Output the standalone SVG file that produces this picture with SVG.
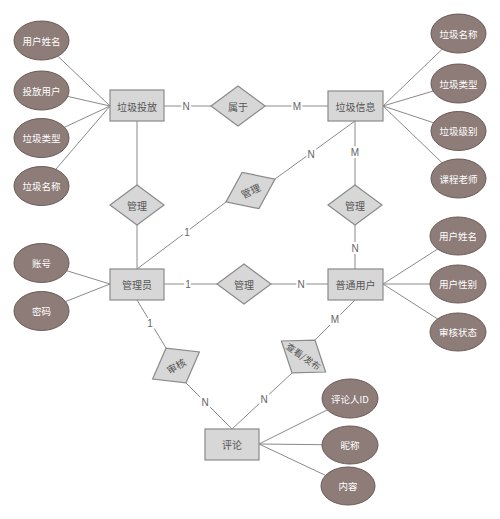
<svg xmlns="http://www.w3.org/2000/svg" width="500" height="519" viewBox="0 0 500 519">
<style>
.bg{fill:#ffffff}
.ln{stroke:#8a8a8a;stroke-width:1;fill:none}
.ent{fill:#d7d7d7;stroke:#8a8a8a;stroke-width:1.2}
.rel{fill:#d7d7d7;stroke:#8a8a8a;stroke-width:1.2}
.att{fill:#8d7c78;stroke:#6a5a56;stroke-width:1}
.t{font-family:"Noto Sans CJK SC","Noto Sans",sans-serif;font-size:10px;fill:#555555;text-anchor:middle;dominant-baseline:central}
.ta{font-family:"Noto Sans CJK SC","Noto Sans",sans-serif;font-size:9.5px;fill:#ffffff;text-anchor:middle;dominant-baseline:central}
.lbl{font-family:"Liberation Sans","Noto Sans",sans-serif;font-size:10px;fill:#666666;text-anchor:middle;dominant-baseline:central;stroke:#ffffff;stroke-width:4;paint-order:stroke}
</style>
<rect class="bg" x="0" y="0" width="500" height="519"/>
<g id="connectors">
  <line class="ln" x1="41.5" y1="40.5" x2="110" y2="106"/>
  <line class="ln" x1="41.5" y1="90.5" x2="110" y2="106"/>
  <line class="ln" x1="41.5" y1="138" x2="110" y2="106"/>
  <line class="ln" x1="41.5" y1="186" x2="110" y2="106"/>
  <line class="ln" x1="458.5" y1="33.5" x2="383" y2="106"/>
  <line class="ln" x1="458.5" y1="83.5" x2="383" y2="106"/>
  <line class="ln" x1="458.5" y1="131" x2="383" y2="106"/>
  <line class="ln" x1="458.5" y1="178.5" x2="383" y2="106"/>
  <line class="ln" x1="41.5" y1="263" x2="110" y2="284"/>
  <line class="ln" x1="41.5" y1="311" x2="110" y2="284"/>
  <line class="ln" x1="458" y1="236" x2="383" y2="284"/>
  <line class="ln" x1="458" y1="284" x2="383" y2="284"/>
  <line class="ln" x1="458" y1="332" x2="383" y2="284"/>
  <line class="ln" x1="350" y1="398.5" x2="259" y2="444"/>
  <line class="ln" x1="350" y1="445" x2="259" y2="444"/>
  <line class="ln" x1="348" y1="486" x2="259" y2="444"/>
  <line class="ln" x1="164" y1="106" x2="211" y2="106"/>
  <line class="ln" x1="265" y1="106" x2="328" y2="106"/>
  <line class="ln" x1="137" y1="121" x2="137" y2="185"/>
  <line class="ln" x1="137" y1="225" x2="137" y2="269"/>
  <line class="ln" x1="355" y1="121" x2="355" y2="185"/>
  <line class="ln" x1="355" y1="225" x2="355" y2="269"/>
  <line class="ln" x1="137" y1="269" x2="226" y2="202"/>
  <line class="ln" x1="275" y1="179" x2="355" y2="121"/>
  <line class="ln" x1="164" y1="284" x2="217" y2="284"/>
  <line class="ln" x1="271" y1="284" x2="328" y2="284"/>
  <line class="ln" x1="137" y1="300" x2="166" y2="348"/>
  <line class="ln" x1="186" y1="383" x2="232" y2="429"/>
  <line class="ln" x1="355" y1="300" x2="315" y2="340"/>
  <line class="ln" x1="292" y1="373" x2="232" y2="429"/>
  <text class="lbl" x="186" y="106">N</text>
  <text class="lbl" x="297" y="106">M</text>
  <text class="lbl" x="187" y="232">1</text>
  <text class="lbl" x="311" y="154">N</text>
  <text class="lbl" x="355" y="152">M</text>
  <text class="lbl" x="355" y="248">N</text>
  <text class="lbl" x="188" y="284">1</text>
  <text class="lbl" x="301" y="284">N</text>
  <text class="lbl" x="150" y="323">1</text>
  <text class="lbl" x="205" y="402">N</text>
  <text class="lbl" x="335" y="319">M</text>
  <text class="lbl" x="264" y="399">N</text>
</g>
<g id="e-laji-toufang"><rect class="ent" x="110" y="90" width="54" height="31"/><text class="t" x="137" y="106">垃圾投放</text></g>
<g id="e-laji-xinxi"><rect class="ent" x="328" y="91" width="55" height="30"/><text class="t" x="355.5" y="106">垃圾信息</text></g>
<g id="e-guanliyuan"><rect class="ent" x="110" y="269" width="54" height="31"/><text class="t" x="137" y="284.5">管理员</text></g>
<g id="e-putong-yonghu"><rect class="ent" x="328" y="269" width="55" height="31"/><text class="t" x="355.5" y="284.5">普通用户</text></g>
<g id="e-pinglun"><rect class="ent" x="205" y="429" width="54" height="31"/><text class="t" x="232" y="444.5">评论</text></g>

<g id="r-shuyu"><polygon class="rel" points="211,106 238,86 265,106 238,126"/><text class="t" x="238" y="106">属于</text></g>
<g id="r-guanli-left"><polygon class="rel" points="110,205 137,185 164,205 137,225"/><text class="t" x="137" y="205">管理</text></g>
<g id="r-guanli-right"><polygon class="rel" points="328,205 355,185 382,205 355,225"/><text class="t" x="355" y="205">管理</text></g>
<g id="r-guanli-mid" transform="translate(250.5,190.5) rotate(-25)"><polygon class="rel" points="-27,0 0,-20 27,0 0,20"/><text class="t" x="0" y="0">管理</text></g>
<g id="r-guanli-h"><polygon class="rel" points="217,284 244,264 271,284 244,304"/><text class="t" x="244" y="284">管理</text></g>
<g id="r-shenhe" transform="translate(176,365.5) rotate(-30)"><polygon class="rel" points="-27,0 0,-20 27,0 0,20"/><text class="t" x="0" y="0">审核</text></g>
<g id="r-chakan" transform="translate(303.5,356.5) rotate(35)"><polygon class="rel" points="-27,0 0,-20 27,0 0,20"/><text class="t" x="0" y="0" style="font-size:9px">查看/发布</text></g>

<g id="a-yonghu-xingming-1"><ellipse class="att" cx="41.5" cy="40.5" rx="27.5" ry="19.5"/><text class="ta" x="41.5" y="40.5">用户姓名</text></g>
<g id="a-toufang-yonghu"><ellipse class="att" cx="41.5" cy="90.5" rx="27.5" ry="19.5"/><text class="ta" x="41.5" y="90.5">投放用户</text></g>
<g id="a-laji-leixing-1"><ellipse class="att" cx="41.5" cy="138" rx="27.5" ry="19.5"/><text class="ta" x="41.5" y="138">垃圾类型</text></g>
<g id="a-laji-mingcheng-1"><ellipse class="att" cx="41.5" cy="186" rx="27.5" ry="19.5"/><text class="ta" x="41.5" y="186">垃圾名称</text></g>
<g id="a-laji-mingcheng-2"><ellipse class="att" cx="458.5" cy="33.5" rx="27.5" ry="19.5"/><text class="ta" x="458.5" y="33.5">垃圾名称</text></g>
<g id="a-laji-leixing-2"><ellipse class="att" cx="458.5" cy="83.5" rx="27.5" ry="19.5"/><text class="ta" x="458.5" y="83.5">垃圾类型</text></g>
<g id="a-laji-jibie"><ellipse class="att" cx="458.5" cy="131" rx="27.5" ry="19.5"/><text class="ta" x="458.5" y="131">垃圾级别</text></g>
<g id="a-kecheng-laoshi"><ellipse class="att" cx="458.5" cy="178.5" rx="27.5" ry="19.5"/><text class="ta" x="458.5" y="178.5">课程老师</text></g>
<g id="a-zhanghao"><ellipse class="att" cx="41.5" cy="263" rx="27.5" ry="19.5"/><text class="ta" x="41.5" y="263">账号</text></g>
<g id="a-mima"><ellipse class="att" cx="41.5" cy="311" rx="27.5" ry="19.5"/><text class="ta" x="41.5" y="311">密码</text></g>
<g id="a-yonghu-xingming-2"><ellipse class="att" cx="458" cy="236" rx="28" ry="19"/><text class="ta" x="458" y="236">用户姓名</text></g>
<g id="a-yonghu-xingbie"><ellipse class="att" cx="458" cy="284" rx="28" ry="19"/><text class="ta" x="458" y="284">用户性别</text></g>
<g id="a-shenhe-zhuangtai"><ellipse class="att" cx="458" cy="332" rx="28" ry="19"/><text class="ta" x="458" y="332">审核状态</text></g>
<g id="a-pinglunren-id"><ellipse class="att" cx="350" cy="398.5" rx="28" ry="19.5"/><text class="ta" x="350" y="398.5">评论人ID</text></g>
<g id="a-nicheng"><ellipse class="att" cx="350" cy="445" rx="28" ry="19"/><text class="ta" x="350" y="445">昵称</text></g>
<g id="a-neirong"><ellipse class="att" cx="348" cy="486" rx="27" ry="19"/><text class="ta" x="348" y="486">内容</text></g>
</svg>
